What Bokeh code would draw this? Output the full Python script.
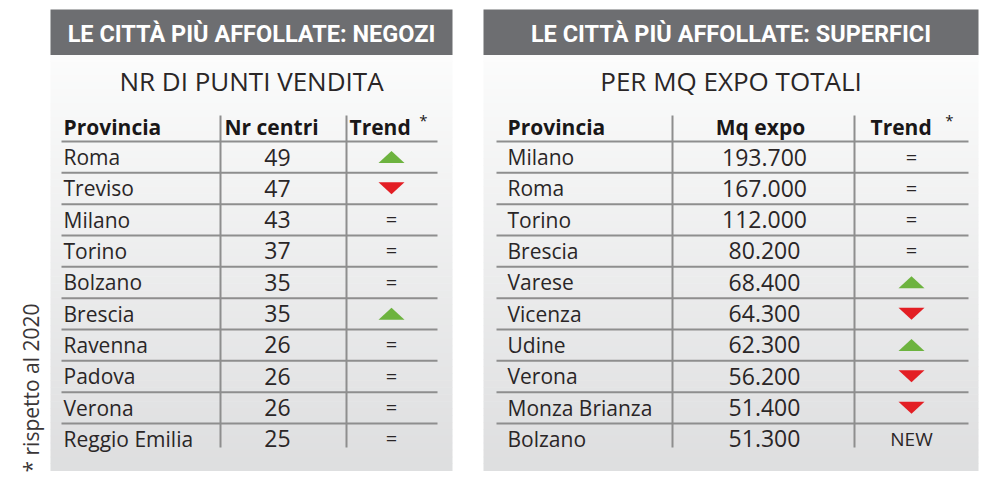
import numpy as np
from bokeh.plotting import figure
from bokeh.models import Range1d, ColumnDataSource
from bokeh.core.properties import value
from bokeh.embed import file_html
from bokeh.resources import INLINE

# ---------------- data ----------------
title_neg = "LE CITTÀ PIÙ AFFOLLATE: NEGOZI"
title_sup = "LE CITTÀ PIÙ AFFOLLATE: SUPERFICI"
sub_neg = "NR DI PUNTI VENDITA"
sub_sup = "PER MQ EXPO TOTALI"
cols_neg = ["Provincia", "Nr centri", "Trend"]
cols_sup = ["Provincia", "Mq expo", "Trend"]

prov_neg = ["Roma", "Treviso", "Milano", "Torino", "Bolzano", "Brescia",
            "Ravenna", "Padova", "Verona", "Reggio Emilia"]
nr_centri = [49, 47, 43, 37, 35, 35, 26, 26, 26, 25]
trend_neg = ["up", "down", "=", "=", "=", "up", "=", "=", "=", "="]

prov_sup = ["Milano", "Roma", "Torino", "Brescia", "Varese", "Vicenza",
            "Udine", "Verona", "Monza Brianza", "Bolzano"]
mq_expo = [193700, 167000, 112000, 80200, 68400, 64300, 62300, 56200, 51400, 51300]
trend_sup = ["=", "=", "=", "=", "up", "down", "up", "down", "down", "NEW"]

footnote = "* rispetto al 2020"

# ---------------- style ----------------
BODY = value("Open Sans")
TITLE = value("Roboto")
TXT = "#2a2627"
LINE = "#8e8e8e"
HEAD_BG = "#6d6e71"
GREEN = "#6db33f"
RED = "#e31e24"

p = figure(width=1000, height=482, x_range=Range1d(0, 1000), y_range=Range1d(482, 0),
           output_backend="svg", toolbar_location=None, min_border=0,
           x_axis_location=None, y_axis_location=None)
p.grid.visible = False
p.outline_line_color = None
p.background_fill_color = "white"
p.border_fill_color = "white"

ROW0 = 156.5
STEP = 31.33


def fmt_it(v):
    return f"{v:,}".replace(",", ".")


def panel(x0, x1, lx0, lx1, vlines, title, sub, cols, col_x, col_align,
          star_x, names, vals, trends, name_x, val_x, trend_x):
    # background gradient
    n = 60
    top, bot = 54, 470
    edges = np.linspace(top, bot, n + 1)
    c0 = np.array([252, 252, 252])
    c1 = np.array([222, 223, 224])
    cols_g = []
    for i in range(n):
        t = i / (n - 1)
        c = (c0 + (c1 - c0) * t).astype(int)
        cols_g.append("#%02x%02x%02x" % tuple(c))
    p.quad(left=x0, right=x1, top=edges[:-1], bottom=edges[1:] + 0.5,
           fill_color=cols_g, line_color=None)
    # header
    p.quad(left=x0, right=x1, top=9, bottom=54.5, fill_color=HEAD_BG, line_color=None)
    p.text(x=[(x0 + x1) / 2], y=[33], text=[title], text_font=TITLE,
           text_font_style="bold", text_font_size="23.5px", text_color="white",
           text_align="center", text_baseline="middle")
    p.text(x=[(x0 + x1) / 2], y=[80], text=[sub], text_font=BODY,
           text_font_size="26px", text_color=TXT,
           text_align="center", text_baseline="middle")
    # column headers
    p.text(x=col_x, y=[126] * 3, text=cols, text_font=BODY, text_font_style="bold",
           text_font_size="21px", text_color="#1a1718",
           text_align=col_align, text_baseline="middle")
    p.text(x=[star_x], y=[119], text=["*"], text_font=BODY,
           text_font_size="15px", text_color="#1a1718",
           text_align="center", text_baseline="middle")
    # grid lines
    ys = [141 + STEP * k for k in range(len(names))]
    p.segment(x0=lx0, x1=lx1, y0=ys, y1=ys, line_color=LINE, line_width=2)
    p.segment(x0=vlines, x1=vlines, y0=115, y1=447, line_color=LINE, line_width=2)
    # rows
    yc = [ROW0 + STEP * i for i in range(len(names))]
    src = ColumnDataSource(dict(y=yc, name=names, val=vals))
    p.text(x=name_x, y="y", text="name", source=src, text_font=BODY,
           text_font_size="21px", text_color=TXT, text_align="left",
           text_baseline="middle")
    p.text(x=val_x, y="y", text="val", source=src, text_font=BODY,
           text_font_size="23px", text_color=TXT, text_align="center",
           text_baseline="middle")
    # trends
    eq_y = [y for y, t in zip(yc, trends) if t == "="]
    p.text(x=trend_x, y=eq_y, text=["="] * len(eq_y), text_font=BODY,
           text_font_size="20px", text_color=TXT, text_align="center",
           text_baseline="middle")
    new_y = [y for y, t in zip(yc, trends) if t == "NEW"]
    if new_y:
        p.text(x=trend_x, y=new_y, text=["NEW"] * len(new_y), text_font=BODY,
               text_font_size="19px", text_color=TXT, text_align="center",
               text_baseline="middle")
    up_y = [y for y, t in zip(yc, trends) if t == "up"]
    dn_y = [y for y, t in zip(yc, trends) if t == "down"]
    hw, hh = 13, 6
    if up_y:
        p.patches(xs=[[trend_x - hw, trend_x + hw, trend_x] for _ in up_y],
                  ys=[[y + hh, y + hh, y - hh] for y in up_y],
                  fill_color=GREEN, line_color=None)
    if dn_y:
        p.patches(xs=[[trend_x - hw, trend_x + hw, trend_x] for _ in dn_y],
                  ys=[[y - hh, y - hh, y + hh] for y in dn_y],
                  fill_color=RED, line_color=None)


panel(50, 452, 61, 437, [220, 346], title_neg, sub_neg, cols_neg,
      [63, 224, 349], ["left", "left", "left"], 423,
      prov_neg, [str(v) for v in nr_centri], trend_neg, 63, 277, 391)

panel(483, 978, 496, 968, [672, 854], title_sup, sub_sup, cols_sup,
      [507, 760, 870], ["left", "center", "left"], 949,
      prov_sup, [fmt_it(v) for v in mq_expo], trend_sup, 507, 764, 911)

# footnote (rotated)
p.text(x=[30], y=[472], text=[footnote], angle=np.pi / 2, text_font=BODY,
       text_font_size="21px", text_color="#3a3637", text_align="left",
       text_baseline="middle")

open("out.html", "w").write(file_html(p, INLINE))
